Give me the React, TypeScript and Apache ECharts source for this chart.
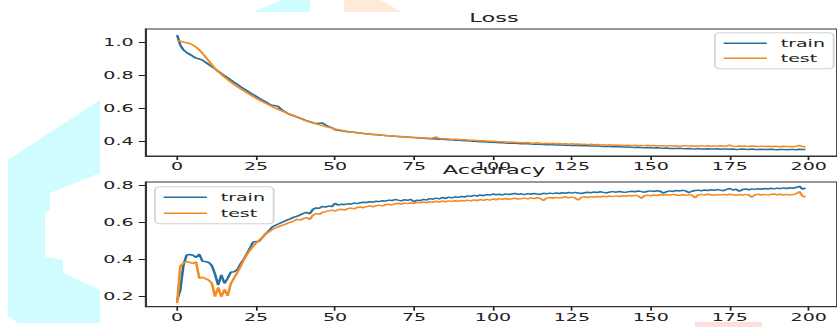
import React, { useEffect, useRef } from "react";
import * as echarts from "echarts";

// ---------- data ----------
const lossTrain = [
  1.045, 0.985, 0.955, 0.94, 0.928, 0.916, 0.905, 0.9, 0.893, 0.88,
  0.866, 0.853, 0.84, 0.826, 0.812, 0.799, 0.786, 0.772, 0.759, 0.746,
  0.733, 0.721, 0.709, 0.697, 0.685, 0.673, 0.661, 0.65, 0.64, 0.628,
  0.619, 0.617, 0.612, 0.593, 0.581, 0.57, 0.561, 0.554, 0.547, 0.54,
  0.533, 0.525, 0.519, 0.513, 0.507, 0.51, 0.511, 0.499, 0.489, 0.483,
  0.47, 0.467, 0.464, 0.461, 0.458, 0.456, 0.455, 0.452, 0.45, 0.448,
  0.446, 0.444, 0.442, 0.441, 0.439, 0.437, 0.436, 0.434, 0.433, 0.431,
  0.43, 0.428, 0.427, 0.426, 0.424, 0.423, 0.421, 0.42, 0.419, 0.417,
  0.416, 0.415, 0.414, 0.413, 0.412, 0.411, 0.41, 0.409, 0.407, 0.406,
  0.405, 0.404, 0.403, 0.402, 0.4, 0.399, 0.398, 0.397, 0.396, 0.395,
  0.394, 0.393, 0.392, 0.392, 0.39, 0.389, 0.389, 0.388, 0.387, 0.386,
  0.385, 0.386, 0.384, 0.383, 0.382, 0.383, 0.381, 0.38, 0.38, 0.379,
  0.378, 0.379, 0.377, 0.377, 0.376, 0.375, 0.376, 0.374, 0.373, 0.374,
  0.373, 0.372, 0.371, 0.372, 0.37, 0.369, 0.37, 0.368, 0.367, 0.368,
  0.367, 0.366, 0.365, 0.366, 0.364, 0.363, 0.364, 0.362, 0.361, 0.362,
  0.361, 0.36, 0.361, 0.359, 0.358, 0.359, 0.357, 0.356, 0.357, 0.358,
  0.356, 0.355, 0.357, 0.355, 0.354, 0.356, 0.354, 0.353, 0.355, 0.354,
  0.353, 0.355, 0.352, 0.353, 0.354, 0.352, 0.353, 0.351, 0.352, 0.354,
  0.352, 0.351, 0.353, 0.351, 0.35, 0.352, 0.351, 0.35, 0.352, 0.35,
  0.349, 0.351, 0.35, 0.349, 0.351, 0.35, 0.349, 0.352, 0.35, 0.351,
];

const lossTest = [
  1.012, 1.008, 1.003, 0.999, 0.994, 0.985, 0.972, 0.955, 0.935, 0.912,
  0.889, 0.864, 0.842, 0.823, 0.806, 0.79, 0.775, 0.76, 0.746, 0.733,
  0.72, 0.708, 0.696, 0.684, 0.673, 0.662, 0.651, 0.641, 0.631, 0.622,
  0.612, 0.603, 0.594, 0.586, 0.578, 0.57, 0.563, 0.556, 0.549, 0.542,
  0.53, 0.524, 0.518, 0.512, 0.506, 0.5, 0.495, 0.49, 0.485, 0.48,
  0.475, 0.471, 0.467, 0.463, 0.46, 0.457, 0.455, 0.452, 0.45, 0.447,
  0.445, 0.443, 0.441, 0.44, 0.438, 0.437, 0.435, 0.434, 0.432, 0.431,
  0.43, 0.429, 0.428, 0.426, 0.425, 0.424, 0.423, 0.422, 0.421, 0.42,
  0.419, 0.421, 0.426, 0.418, 0.416, 0.415, 0.414, 0.413, 0.412, 0.411,
  0.41, 0.409, 0.408, 0.407, 0.406, 0.405, 0.404, 0.403, 0.402, 0.401,
  0.4, 0.399, 0.398, 0.397, 0.396, 0.395, 0.396, 0.394, 0.393, 0.392,
  0.391, 0.393, 0.39, 0.389, 0.391, 0.388, 0.387, 0.389, 0.386, 0.388,
  0.385, 0.387, 0.384, 0.386, 0.383, 0.385, 0.382, 0.384, 0.381, 0.383,
  0.38, 0.382, 0.379, 0.381, 0.378, 0.38, 0.377, 0.379, 0.376, 0.378,
  0.376, 0.377, 0.375, 0.377, 0.374, 0.376, 0.373, 0.375, 0.374, 0.376,
  0.373, 0.375, 0.372, 0.374, 0.373, 0.371, 0.374, 0.372, 0.373, 0.371,
  0.372, 0.374, 0.371, 0.373, 0.37, 0.372, 0.374, 0.371, 0.373, 0.37,
  0.372, 0.371, 0.373, 0.37, 0.372, 0.376, 0.371, 0.369, 0.372, 0.37,
  0.371, 0.369, 0.372, 0.37, 0.368, 0.371, 0.369, 0.37, 0.368, 0.37,
  0.369, 0.367, 0.37, 0.368, 0.369, 0.367, 0.37, 0.375, 0.368, 0.366,
];

const accTrain = [
  0.18, 0.235, 0.37, 0.425, 0.428, 0.424, 0.412, 0.43, 0.392, 0.39,
  0.385, 0.368, 0.322, 0.262, 0.318, 0.272, 0.3, 0.332, 0.335, 0.345,
  0.375, 0.4, 0.43, 0.46, 0.495, 0.498, 0.5, 0.52, 0.54, 0.555,
  0.575, 0.585, 0.593, 0.6, 0.608, 0.615, 0.622, 0.63, 0.635, 0.642,
  0.65, 0.656, 0.648, 0.672, 0.68, 0.678, 0.688, 0.685, 0.69, 0.687,
  0.705, 0.695, 0.7, 0.698, 0.702, 0.7, 0.706, 0.703, 0.708, 0.711,
  0.709, 0.713, 0.711, 0.716, 0.714, 0.719, 0.717, 0.722, 0.72, 0.725,
  0.722, 0.718, 0.724, 0.721, 0.726, 0.714, 0.722, 0.719, 0.726, 0.723,
  0.73, 0.727, 0.733, 0.729, 0.736, 0.731, 0.738, 0.734, 0.74, 0.737,
  0.742, 0.739, 0.745, 0.742, 0.748, 0.744, 0.75, 0.746, 0.752, 0.749,
  0.755, 0.751, 0.754, 0.75, 0.756, 0.752, 0.755, 0.758, 0.753, 0.756,
  0.752, 0.757, 0.754, 0.758, 0.755, 0.753, 0.759, 0.756, 0.76, 0.757,
  0.761, 0.758, 0.762, 0.759, 0.763, 0.76, 0.764, 0.761, 0.758, 0.762,
  0.765, 0.762, 0.766, 0.763, 0.767, 0.764, 0.761, 0.766, 0.768, 0.765,
  0.769, 0.766, 0.764, 0.768, 0.77, 0.767, 0.771, 0.768, 0.765, 0.77,
  0.772, 0.769, 0.773, 0.77, 0.76, 0.768, 0.772, 0.769, 0.774, 0.771,
  0.775, 0.772, 0.763, 0.77, 0.774, 0.776, 0.773, 0.777, 0.774, 0.778,
  0.775, 0.779, 0.776, 0.773, 0.78, 0.785, 0.777, 0.781, 0.77, 0.779,
  0.782, 0.778, 0.783, 0.78, 0.784, 0.781, 0.785, 0.782, 0.786, 0.783,
  0.787, 0.784, 0.788, 0.785, 0.789, 0.786, 0.79, 0.797, 0.782, 0.787,
];

const accTest = [
  0.165, 0.365, 0.382, 0.39, 0.385, 0.38, 0.388, 0.3, 0.305, 0.298,
  0.29, 0.272, 0.2, 0.25, 0.2, 0.24, 0.205, 0.27, 0.3, 0.33,
  0.36, 0.395, 0.425, 0.45, 0.47, 0.49, 0.505, 0.52, 0.54, 0.55,
  0.562, 0.57, 0.578, 0.585, 0.59, 0.598, 0.603, 0.61, 0.618, 0.614,
  0.622, 0.628, 0.618, 0.64, 0.65, 0.645, 0.655, 0.66, 0.664, 0.668,
  0.662, 0.67, 0.673, 0.668, 0.676, 0.679, 0.675, 0.682, 0.685, 0.681,
  0.687, 0.69, 0.686, 0.692, 0.695, 0.691, 0.697, 0.7, 0.696, 0.702,
  0.705, 0.7, 0.706, 0.703, 0.708, 0.704, 0.71, 0.707, 0.712, 0.708,
  0.714, 0.71, 0.716, 0.712, 0.717, 0.713, 0.718, 0.715, 0.719, 0.716,
  0.72, 0.717, 0.722, 0.718, 0.723, 0.72, 0.725, 0.721, 0.726, 0.722,
  0.728, 0.724, 0.73, 0.726, 0.731, 0.727, 0.729, 0.732, 0.728, 0.73,
  0.733, 0.729, 0.734, 0.73, 0.735, 0.731, 0.72, 0.733, 0.736, 0.732,
  0.737, 0.733, 0.736, 0.739, 0.735, 0.738, 0.734, 0.722, 0.737, 0.74,
  0.736, 0.741, 0.738, 0.742, 0.739, 0.743, 0.74, 0.744, 0.741, 0.745,
  0.742, 0.746, 0.743, 0.747, 0.744, 0.748, 0.745, 0.732, 0.746, 0.749,
  0.746, 0.75, 0.747, 0.751, 0.748, 0.752, 0.749, 0.753, 0.75, 0.747,
  0.751, 0.748, 0.752, 0.749, 0.735, 0.75, 0.753, 0.749, 0.754, 0.751,
  0.748, 0.752, 0.749, 0.753, 0.75, 0.754, 0.751, 0.748, 0.752, 0.749,
  0.753, 0.75, 0.738, 0.751, 0.754, 0.75, 0.753, 0.749, 0.752, 0.755,
  0.751, 0.754, 0.75, 0.753, 0.749, 0.752, 0.756, 0.768, 0.745, 0.738,
];

const xTicks = [0, 25, 50, 75, 100, 125, 150, 175, 200];
const lossTicks = [0.4, 0.6, 0.8, 1.0];
const accTicks = [0.2, 0.4, 0.6, 0.8];
const seriesNames = ["train", "test"];
const titles = ["Loss", "Accuracy"];

// ---------- layout (the reference is a horizontally stretched figure) ----------
const S = 837 / 484;
const nx = (x: number) => x / S;
const FONT = "DejaVu Sans";
const TXT = "#222";
const SPINE = "#333";
const BLUE = "#22719f";
const ORANGE = "#f58a22";

const toPairs = (arr: number[]) => arr.map((v, i) => [i, v]);

const gridLeft = nx(145.7);
const gridWidth = nx(841.8 - 145.7);

function xAxisFor(gridIndex: number) {
  return {
    type: "value",
    gridIndex,
    position: "bottom",
    min: -9.95,
    max: 208.95,
    axisLine: { show: true, onZero: false, lineStyle: { color: SPINE, width: 1 } },
    splitLine: { show: false },
    axisTick: { show: true, length: 4, customValues: xTicks, lineStyle: { color: TXT, width: 1 } },
    axisLabel: {
      customValues: xTicks,
      fontSize: 11,
      fontFamily: FONT,
      color: TXT,
      margin: 5,
    },
  };
}

function yAxisFor(gridIndex: number, min: number, max: number, ticks: number[]) {
  return {
    type: "value",
    gridIndex,
    position: "left",
    min,
    max,
    axisLine: { show: true, onZero: false, lineStyle: { color: SPINE, width: 1 } },
    splitLine: { show: false },
    axisTick: { show: true, length: 4, customValues: ticks, lineStyle: { color: TXT, width: 1 } },
    axisLabel: {
      customValues: ticks,
      formatter: (v: number) => v.toFixed(1),
      fontSize: 11,
      fontFamily: FONT,
      color: TXT,
      margin: 7,
    },
  };
}

function legendAt(left: number, top: number, itemGap: number) {
  return {
    orient: "vertical",
    left,
    top,
    data: seriesNames.map((n) => ({ name: n, icon: "rect" })),
    itemWidth: 25,
    itemHeight: 1.6,
    itemGap,
    padding: [4, 5, 4, 5],
    backgroundColor: "rgba(255,255,255,0.85)",
    borderColor: "#d4d4d4",
    borderWidth: 1,
    borderRadius: 3,
    selectedMode: false,
    textStyle: { fontSize: 11, fontFamily: FONT, color: TXT, lineHeight: 13, padding: [0, 0, 0, 3] },
  };
}

const poly = (pts: number[][], fill: string) => ({
  type: "polygon",
  silent: true,
  z: -10,
  shape: { points: pts.map(([x, y]) => [nx(x), y]) },
  style: { fill },
});

export default function App() {
  const ref = useRef<HTMLDivElement>(null);

  useEffect(() => {
    if (!ref.current) return;
    const chart = echarts.init(ref.current, null, { renderer: "svg" });
    const lineSeries = (name: string, data: number[], color: string, idx: number) => ({
      name,
      type: "line",
      xAxisIndex: idx,
      yAxisIndex: idx,
      data: toPairs(data),
      showSymbol: false,
      symbol: "none",
      color,
      lineStyle: { color, width: 1.5 },
    });

    chart.setOption({
      animation: false,
      backgroundColor: "#ffffff",
      title: [
        {
          text: titles[0],
          left: nx(494),
          top: 11,
          textAlign: "center",
          padding: 0,
          textStyle: { fontSize: 13, fontWeight: "normal", fontFamily: FONT, color: TXT },
        },
        {
          text: titles[1],
          left: nx(494),
          top: 163,
          textAlign: "center",
          padding: 0,
          textStyle: { fontSize: 13, fontWeight: "normal", fontFamily: FONT, color: TXT },
        },
      ],
      legend: [legendAt(nx(715), 32.7, 2), legendAt(nx(155), 186.7, 3)],
      grid: [
        { left: gridLeft, top: 29, width: gridWidth, height: 127, show: true, borderColor: SPINE, borderWidth: 1, backgroundColor: "transparent" },
        { left: gridLeft, top: 182, width: gridWidth, height: 124.7, show: true, borderColor: SPINE, borderWidth: 1, backgroundColor: "transparent" },
      ],
      xAxis: [xAxisFor(0), xAxisFor(1)],
      yAxis: [yAxisFor(0, 0.311, 1.082, lossTicks), yAxisFor(1, 0.146, 0.82, accTicks)],
      series: [
        lineSeries(seriesNames[0], lossTrain, BLUE, 0),
        lineSeries(seriesNames[1], lossTest, ORANGE, 0),
        lineSeries(seriesNames[0], accTrain, BLUE, 1),
        lineSeries(seriesNames[1], accTest, ORANGE, 1),
      ],
      graphic: [
        poly(
          [
            [100, 100], [100, 173], [50, 193], [50, 210], [45, 213], [45, 257], [63, 260], [63, 273],
            [100, 290], [100, 323], [18, 323], [8, 316], [8, 160],
          ],
          "#cefcff"
        ),
        poly([[253, 12], [282, 0], [310, 0], [310, 12]], "#cefcff"),
        poly([[344, 0], [380, 0], [402, 12], [344, 12]], "#fdebd8"),
        poly([[695, 322], [762, 322], [762, 327], [695, 327]], "#fde0dd"),
      ],
    });
    return () => chart.dispose();
  }, []);

  return (
    <div
      ref={ref}
      style={{
        position: "absolute",
        left: 0,
        top: 0,
        width: 484,
        height: 327,
        transform: `scaleX(${S})`,
        transformOrigin: "0 0",
      }}
    />
  );
}
